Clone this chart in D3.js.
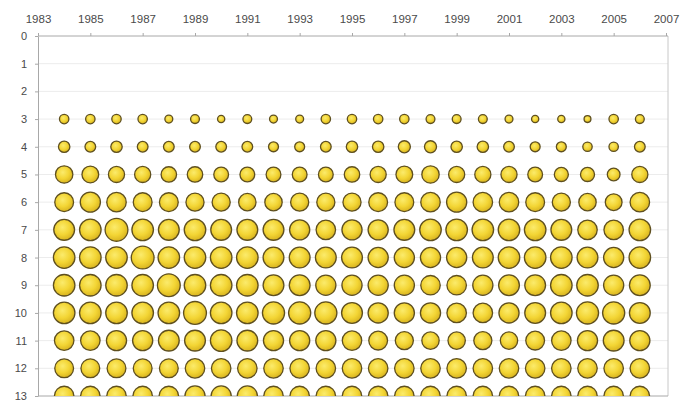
<!DOCTYPE html>
<html lang="en">
<head>
<meta charset="utf-8">
<style>
  html, body { margin:0; padding:0; background:#fff; overflow:hidden }
  svg { display:block }
  .axis text { font-family: Arial, "Liberation Sans", sans-serif; fill:#4a4a4a; }
  .axis path, .axis line { stroke:#a8a8a8; }
</style>
</head>
<body>
<svg width="681" height="402"></svg>
<script src="https://cdn.jsdelivr.net/npm/d3@7"></script>
<script>
// years on the top axis, one bubble column per year
var years = [1984,1985,1986,1987,1988,1989,1990,1991,1992,1993,1994,1995,
             1996,1997,1998,1999,2000,2001,2002,2003,2004,2005,2006];
var rows = [3,4,5,6,7,8,9,10,11,12,13];
var yearTicks = [1983,1985,1987,1989,1991,1993,1995,1997,1999,2001,2003,2005,2007];

// bubble values (area) per row
var row3  = [17,17,17,17,12,15,10,15, 12,12,17,17,17,17,15,15, 15,12,10,10,9,17,15];
var row4  = [25,22,25,22,22,22,22,22, 19,19,22,25,25,28,28,25, 25,22,19,19,17,17,22];
var row5  = [58,54,50,50,46,46,42,42, 42,42,42,46,50,54,58,50, 50,50,42,38,38,31,50];
var row6  = [68,78,73,68,68,63,63,58, 58,63,63,63,68,68,73,78, 73,73,68,63,58,54,73];
var row7  = [83,89,100,89,83,89,83,83, 83,78,73,78,78,83,89,89, 89,89,89,83,73,73,89];
var row8  = [89,89,89,100,89,89,89,89, 83,83,83,83,78,78,78,78, 83,89,89,89,83,78,89];
var row9  = [89,89,89,89,100,89,89,89, 83,83,78,78,78,78,73,73, 78,83,83,89,89,78,83];
var row10 = [89,89,89,89,89,100,89,89, 94,94,94,83,78,78,78,73, 73,78,83,89,94,94,83];
var row11 = [73,73,78,78,83,83,89,83, 78,78,78,73,68,63,58,58, 63,58,68,73,78,83,78];
var row12 = [68,68,68,68,68,73,73,73, 73,73,73,73,73,73,73,73, 73,73,73,73,73,73,73];
var row13 = [73,73,73,73,73,78,78,78, 73,73,73,73,73,73,73,73, 73,73,73,73,73,73,73];
var rowValues = [row3,row4,row5,row6,row7,row8,row9,row10,row11,row12,row13];

var svg = d3.select("svg");
var plotL = 38, plotR = 666, plotT = 36, plotB = 396;

var x = d3.scaleLinear().domain([1983, 2007]).range([plotL, plotR]);
var y = d3.scaleLinear().domain([0, 13]).range([plotT, plotB]);
var r = d3.scaleSqrt().domain([0, 100]).range([0, 11.4]);

var defs = svg.append("defs");
var grad = defs.append("radialGradient")
    .attr("id", "ball")
    .attr("cx", "42%").attr("cy", "38%").attr("r", "65%");
grad.append("stop").attr("offset", "0%").attr("stop-color", "#fbeb6c");
grad.append("stop").attr("offset", "55%").attr("stop-color", "#f3d534");
grad.append("stop").attr("offset", "100%").attr("stop-color", "#d6b11e");

defs.append("clipPath").attr("id", "plot")
  .append("rect")
    .attr("x", plotL).attr("y", plotT)
    .attr("width", plotR + 2 - plotL).attr("height", plotB - plotT);

// faint horizontal grid
svg.append("g").selectAll("line")
    .data(d3.range(1, 13))
    .enter().append("line")
    .attr("x1", plotL).attr("x2", plotR + 2)
    .attr("y1", function (d) { return y(d); })
    .attr("y2", function (d) { return y(d); })
    .attr("stroke", "#ececec");

// plot frame (right and bottom)
svg.append("line")
    .attr("x1", plotR + 2).attr("x2", plotR + 2)
    .attr("y1", plotT).attr("y2", plotB)
    .attr("stroke", "#c8c8c8");
svg.append("line")
    .attr("x1", plotL).attr("x2", plotR + 2)
    .attr("y1", plotB).attr("y2", plotB)
    .attr("stroke", "#a8a8a8");

var xAxis = svg.append("g")
    .attr("class", "axis")
    .attr("transform", "translate(0," + plotT + ")")
    .call(d3.axisTop(x).tickValues(yearTicks).tickFormat(d3.format("d"))
        .tickSize(3).tickSizeOuter(0).tickPadding(10));
xAxis.selectAll("text").style("font-size", "11.5px");
xAxis.select(".domain").attr("d", "M" + plotL + ",0H" + (plotR + 2));

var yAxis = svg.append("g")
    .attr("class", "axis")
    .attr("transform", "translate(" + plotL + ",0)")
    .call(d3.axisLeft(y).tickValues(d3.range(0, 14)).tickSize(3).tickSizeOuter(0).tickPadding(8));
yAxis.selectAll("text").style("font-size", "11px");
yAxis.select(".domain").attr("stroke", "#999");

var cells = [];
rows.forEach(function (row, i) {
    years.forEach(function (yr, j) {
        cells.push({ year: yr, row: row, value: rowValues[i][j] });
    });
});

svg.append("g")
    .attr("clip-path", "url(#plot)")
    .selectAll("circle")
    .data(cells)
    .enter().append("circle")
    .attr("cx", function (d) { return x(d.year); })
    .attr("cy", function (d) { return y(d.row); })
    .attr("r", function (d) { return r(d.value); })
    .attr("fill", "url(#ball)")
    .attr("stroke", "#5e4f1f")
    .attr("stroke-width", 1.3);
</script>
</body>
</html>
